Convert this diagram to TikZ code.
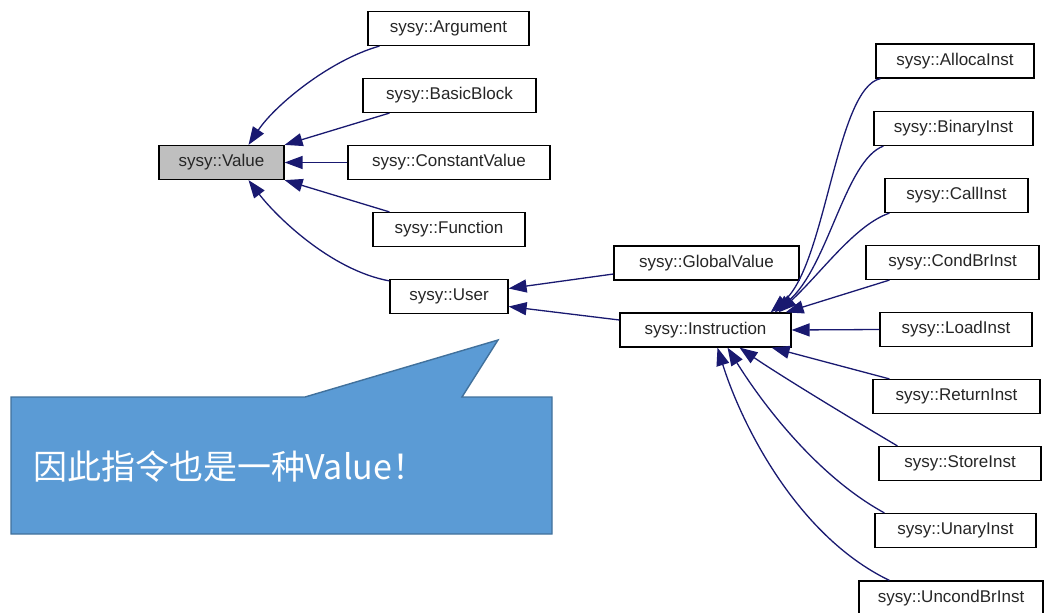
\documentclass[tikz,border=0pt]{standalone}
\usepackage{fontspec}
\setmainfont{Liberation Sans}
\newfontfamily\cjk{Noto Sans CJK SC}
\usetikzlibrary{arrows.meta,calc}
\definecolor{edgeblue}{HTML}{191970}
\definecolor{basegray}{HTML}{BFBFBF}
\definecolor{calloutfill}{HTML}{5B9BD5}
\definecolor{calloutline}{HTML}{41719C}
\begin{document}
\begin{tikzpicture}[x=1pt,y=-1pt,
  cls/.style={draw=black, line width=1.2pt, minimum height=34pt, inner sep=0pt,
              fill=white, text=black!85, font=\fontsize{17}{20}\selectfont},
  inh/.style={draw=edgeblue, line width=1.3pt,
              -{Triangle[length=18pt,width=13pt,fill=edgeblue]}}]
\useasboundingbox (0,0) rectangle (1044,613);

% class boxes
\node[cls, fill=basegray, minimum width=125pt] (val)   at (221.5,162.5) {sysy::Value};
\node[cls, minimum width=161pt] (arg)   at (448.5,28.5)  {sysy::Argument};
\node[cls, minimum width=173pt] (bb)    at (449.5,95.5)  {sysy::BasicBlock};
\node[cls, minimum width=202pt] (cv)    at (449,162.5)   {sysy::ConstantValue};
\node[cls, minimum width=152pt] (fn)    at (449,229.5)   {sysy::Function};
\node[cls, minimum width=118pt] (user)  at (449,296.5)   {sysy::User};
\node[cls, minimum width=185pt] (gv)    at (706.5,263)   {sysy::GlobalValue};
\node[cls, minimum width=171pt] (inst)  at (705.5,330)   {sysy::Instruction};
\node[cls, minimum width=158pt] (alloc) at (955,61)      {sysy::AllocaInst};
\node[cls, minimum width=159pt] (bin)   at (953.5,128.5) {sysy::BinaryInst};
\node[cls, minimum width=143pt] (call)  at (956.5,195.5) {sysy::CallInst};
\node[cls, minimum width=173pt] (cond)  at (952.5,262.5) {sysy::CondBrInst};
\node[cls, minimum width=152pt] (load)  at (956,329.5)   {sysy::LoadInst};
\node[cls, minimum width=167pt] (ret)   at (956.5,396.5) {sysy::ReturnInst};
\node[cls, minimum width=162pt] (store) at (960,463.5)   {sysy::StoreInst};
\node[cls, minimum width=161pt] (un)    at (955.5,530.5) {sysy::UnaryInst};
\node[cls, minimum width=184pt] (ubr)   at (951,598)     {sysy::UncondBrInst};

% inheritance arrows towards sysy::Value
\draw[inh] ($(arg.south west)+(12,0)$) .. controls (330,60) and (275,105) .. ($(val.north)+(27,0)$);
\draw[inh] ($(bb.south west)+(27,0)$) -- (val.north east);
\draw[inh] (cv.west) -- (val.east);
\draw[inh] ($(fn.north west)+(17,0)$) -- (val.south east);
\draw[inh] ($(user.north west)+(0,2)$) .. controls (330,270) and (275,215) .. ($(val.south)+(27,0)$);

% inheritance arrows towards sysy::User
\draw[inh] ($(gv.west)+(0,11)$) -- ($(user.east)+(0,-8)$);
\draw[inh] ($(inst.west)+(0,-10)$) -- ($(user.east)+(0,10)$);

% inheritance arrows towards sysy::Instruction
\draw[inh] ($(alloc.south west)+(5,0)$) .. controls (836,88) and (826,265) .. ($(inst.north east)+(-21,0)$);
\draw[inh] ($(bin.south west)+(10,0)$) .. controls (845,160) and (828,268) .. ($(inst.north east)+(-17,0)$);
\draw[inh] ($(call.south west)+(5,0)$) .. controls (855,225) and (822,272) .. ($(inst.north east)+(-13,0)$);
\draw[inh] ($(cond.south west)+(24,0)$) -- ($(inst.north east)+(-6,0)$);
\draw[inh] (load.west) -- (inst.east);
\draw[inh] ($(ret.north west)+(17,0)$) -- ($(inst.south east)+(-20,0)$);
\draw[inh] ($(store.north west)+(19,0)$) .. controls (840,412) and (775,372) .. ($(inst.south)+(34,0)$);
\draw[inh] ($(un.north west)+(10,0)$) .. controls (815,475) and (760,400) .. ($(inst.south)+(22,0)$);
\draw[inh] ($(ubr.north west)+(31,0)$) .. controls (795,535) and (740,420) .. ($(inst.south)+(12,0)$);

% speech callout
\draw[fill=calloutfill, draw=calloutline, line width=1.4pt, line join=miter]
  (11,397) -- (305,397) -- (498,340) -- (462,397) -- (552,397)
  -- (552,534) -- (11,534) -- cycle;
\node[anchor=west, inner sep=0pt, text=white, font=\cjk\fontsize{34}{40}\selectfont]
  (note) at (33,467) {因此指令也是一种Value！};
\end{tikzpicture}
\end{document}
